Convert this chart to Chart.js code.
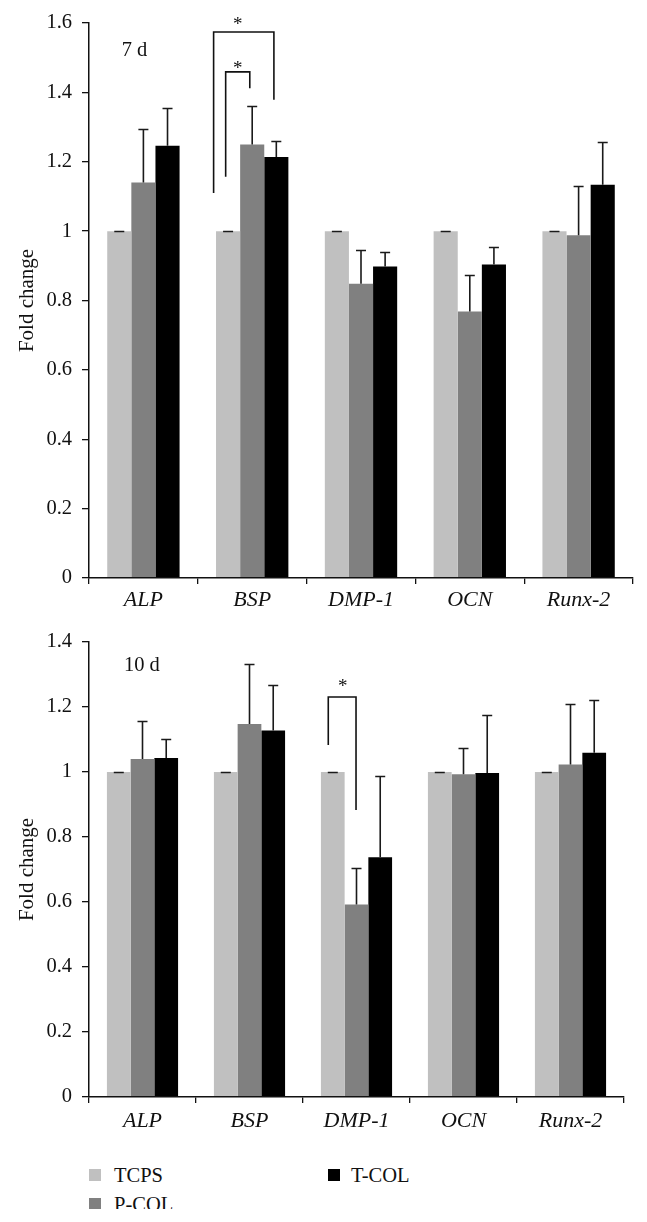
<!DOCTYPE html>
<html>
<head>
<meta charset="utf-8">
<script src="https://cdn.jsdelivr.net/npm/chart.js@4.4.1/dist/chart.umd.min.js"></script>
<style>
  html, body { margin: 0; padding: 0; background: #fff; }
  #page { position: relative; width: 647px; height: 1222px; overflow: hidden; background: #fff; }
  #page canvas { position: absolute; left: 0; }
  #c7 { top: 0; }
  #c10 { top: 615px; }
  #legend { position: absolute; left: 0; top: 1160px; width: 647px; height: 49px; overflow: hidden;
            font-family: "Liberation Serif", serif; font-size: 20.5px; color: #111; }
  .item { position: absolute; height: 24px; line-height: 24px; white-space: nowrap; }
  .box { position: absolute; top: 6px; width: 12px; height: 12px; }
</style>
</head>
<body>
<div id="page">
  <canvas id="c7" width="647" height="612"></canvas>
  <canvas id="c10" width="647" height="524"></canvas>
  <div id="legend"></div>
</div>
<script>
// ---- data ----
const genes = ["ALP", "BSP", "DMP-1", "OCN", "Runx-2"];
const groups = ["TCPS", "P-COL", "T-COL"];
const groupColors = ["#c0c0c0", "#808080", "#000000"];

// 7 d
const tcps7 = [1, 1, 1, 1, 1];
const pcol7 = [1.14, 1.25, 0.848, 0.768, 0.988];
const tcol7 = [1.246, 1.214, 0.898, 0.904, 1.134];
const tcps7Err = [0, 0, 0, 0, 0];
const pcol7Err = [0.153, 0.111, 0.098, 0.106, 0.142];
const tcol7Err = [0.108, 0.046, 0.041, 0.049, 0.123];

// 10 d
const tcps10 = [1, 1, 1, 1, 1];
const pcol10 = [1.04, 1.148, 0.592, 0.993, 1.023];
const tcol10 = [1.043, 1.128, 0.738, 0.997, 1.059];
const tcps10Err = [0, 0, 0, 0, 0];
const pcol10Err = [0.118, 0.183, 0.114, 0.081, 0.185];
const tcol10Err = [0.058, 0.141, 0.25, 0.178, 0.163];

// significance brackets: [gene, left slot, right slot, left foot, top, right foot]
// slot 0 = TCPS bar centre, 1 = P-COL, 2 = T-COL
const brackets7 = [
  [1, -0.6, 1.9, 1.11, 1.574, 1.379],
  [1, -0.1, 0.9, 1.157, 1.459, 1.412]
];
const stars7 = [[1, 0.4, 1.607], [1, 0.4, 1.48]];
const brackets10 = [[2, -0.19, 0.98, 1.083, 1.231, 0.883]];
const stars10 = [[2, 0.42, 1.273]];

const FONT = "Liberation Serif";
const INK = "#111";

// ---- plugins ----
function slotX(chart, gene, slot) {
  const bar = chart.getDatasetMeta(0).data[gene];
  return bar.x + slot * bar.width;
}

const errorBars = {
  id: "errorBars",
  afterDatasetsDraw(chart) {
    const ctx = chart.ctx;
    const y = chart.scales.y;
    ctx.save();
    ctx.strokeStyle = "#1a1a1a";
    ctx.lineWidth = 1.6;
    chart.data.datasets.forEach((ds, i) => {
      chart.getDatasetMeta(i).data.forEach((bar, j) => {
        const top = Math.round(y.getPixelForValue(ds.data[j] + ds.errors[j])) + 0.5;
        ctx.beginPath();
        ctx.moveTo(bar.x, bar.y);
        ctx.lineTo(bar.x, top);
        ctx.moveTo(bar.x - 5, top);
        ctx.lineTo(bar.x + 5, top);
        ctx.stroke();
      });
    });
    ctx.restore();
  }
};

const annotations = {
  id: "annotations",
  afterDatasetsDraw(chart, args, opts) {
    const ctx = chart.ctx;
    const y = chart.scales.y;
    ctx.save();
    ctx.strokeStyle = INK;
    ctx.lineWidth = 1.6;
    (opts.brackets || []).forEach(b => {
      const x1 = slotX(chart, b[0], b[1]);
      const x2 = slotX(chart, b[0], b[2]);
      const yt = y.getPixelForValue(b[4]);
      ctx.beginPath();
      ctx.moveTo(x1, y.getPixelForValue(b[3]));
      ctx.lineTo(x1, yt);
      ctx.lineTo(x2, yt);
      ctx.lineTo(x2, y.getPixelForValue(b[5]));
      ctx.stroke();
    });
    ctx.fillStyle = INK;
    ctx.font = "19px '" + FONT + "'";
    ctx.textAlign = "center";
    ctx.textBaseline = "alphabetic";
    (opts.stars || []).forEach(s => {
      ctx.fillText("*", slotX(chart, s[0], s[1]), y.getPixelForValue(s[2]) + 9);
    });
    if (opts.label) {
      ctx.font = "20.5px '" + FONT + "'";
      ctx.textAlign = "left";
      const l = opts.label;
      ctx.fillText(l.text, slotX(chart, l.gene, l.slot), y.getPixelForValue(l.value));
    }
    ctx.restore();
  }
};

// ---- chart builder ----
function makeChart(id, series, errors, yMax, padTop, padRight, xHeight, xPad, ann) {
  return new Chart(document.getElementById(id), {
    type: "bar",
    data: {
      labels: genes,
      datasets: groups.map((g, i) => ({
        label: g,
        data: series[i],
        errors: errors[i],
        backgroundColor: groupColors[i],
        borderWidth: 0,
        categoryPercentage: 0.665,
        barPercentage: 1
      }))
    },
    options: {
      responsive: false,
      animation: false,
      devicePixelRatio: 1,
      layout: { padding: { top: padTop, right: padRight, bottom: 0, left: 0 } },
      plugins: { legend: { display: false }, tooltip: { enabled: false }, annotations: ann },
      scales: {
        x: {
          afterFit: s => { s.height = xHeight; },
          ticks: { color: INK, padding: xPad, font: { family: FONT, size: 22, style: "italic" } },
          grid: { display: true, offset: true, drawOnChartArea: false, drawTicks: true, tickLength: 6, color: INK, lineWidth: 1.3 },
          border: { display: true, color: INK, width: 1.5, z: 1 }
        },
        y: {
          min: 0,
          max: yMax,
          afterFit: s => { s.width = 89; },
          ticks: {
            stepSize: 0.2, color: INK, padding: 10, font: { family: FONT, size: 20.5 },
            callback: v => String(Number(v.toFixed(1)))
          },
          grid: { display: true, drawOnChartArea: false, drawTicks: true, tickLength: 7, color: INK, lineWidth: 1.3 },
          border: { display: true, color: INK, width: 1.5, z: 1 },
          title: { display: true, text: "Fold change", color: INK, font: { family: FONT, size: 21 }, padding: { top: 15, bottom: 0 } }
        }
      }
    },
    plugins: [errorBars, annotations]
  });
}

makeChart("c7", [tcps7, pcol7, tcol7], [tcps7Err, pcol7Err, tcol7Err], 1.6, 23, 14, 34, 3,
  { brackets: brackets7, stars: stars7, label: { text: "7 d", gene: 0, slot: 0.1, value: 1.504 } });

makeChart("c10", [tcps10, pcol10, tcol10], [tcps10Err, pcol10Err, tcol10Err], 1.4, 27, 23, 42, 5,
  { brackets: brackets10, stars: stars10, label: { text: "10 d", gene: 0, slot: 0.22, value: 1.311 } });

// ---- legend (two columns: TCPS / P-COL, then T-COL) ----
const legendPos = [[89, 114, 3], [89, 114, 32], [328, 351, 3]];
const legend = document.getElementById("legend");
groups.forEach((g, i) => {
  const [bx, tx, top] = legendPos[i];
  const item = document.createElement("div");
  item.className = "item";
  item.style.left = bx + "px";
  item.style.top = top + "px";
  item.innerHTML = `<span class="box" style="left:0;background:${groupColors[i]}"></span>` +
                   `<span style="position:absolute;left:${tx - bx}px">${g}</span>`;
  legend.appendChild(item);
});
</script>
</body>
</html>
